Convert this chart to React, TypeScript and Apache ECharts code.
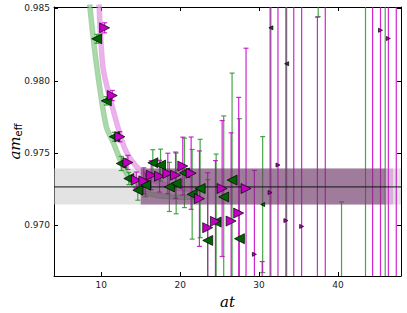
import React, { useEffect, useRef } from 'react';
import * as echarts from 'echarts';

// ---- data ----
const xTicks = [10, 20, 30, 40];
const yTicks = [0.970, 0.975, 0.980, 0.985];

// green correlator (left-pointing markers)
const greenT = [9.41, 10.63, 11.65, 12.53, 13.49, 14.63, 15.61, 16.53, 17.51, 18.63, 19.49, 20.54, 21.52, 22.53, 23.49, 24.56, 25.52, 26.58, 27.51, 30.46, 31.5, 33.5, 37.5, 40.46, 43.5, 46.0];
const greenV = [0.98290, 0.97861, 0.97613, 0.97428, 0.97324, 0.97243, 0.97278, 0.97433, 0.97417, 0.97266, 0.97290, 0.97363, 0.97215, 0.97255, 0.96896, 0.97023, 0.97197, 0.97313, 0.96908, 0.97144, 0.98366, 0.98118, 0.995, 0.955, 0.950, 0.950];
const greenErr = [0.00031, 0.00029, 0.00031, 0.00049, 0.00042, 0.00069, 0.0008, 0.0009, 0.0011, 0.0017, 0.0021, 0.0024, 0.0031, 0.0034, 0.0042, 0.0047, 0.0056, 0.0074, 0.0083, 0.0047, 0.02, 0.02, 0.01056, 0.01662, 0.045, 0.045];

// magenta correlator (right-pointing markers)
const magentaT = [10.42, 11.39, 12.35, 13.37, 14.43, 15.39, 16.33, 17.38, 18.43, 19.41, 20.33, 21.39, 22.44, 23.49, 24.47, 25.32, 26.46, 27.42, 28.35, 29.41, 30.4, 31.4, 32.4, 33.4, 34.4, 35.4, 37.4, 38.4, 44.4, 45.4, 46.4, 47.4];
const magentaV = [0.98366, 0.97898, 0.97613, 0.97435, 0.97313, 0.97308, 0.97347, 0.97340, 0.97359, 0.97347, 0.97410, 0.97361, 0.97185, 0.96984, 0.97028, 0.97255, 0.97030, 0.97085, 0.97255, 0.968, 0.955, 0.97227, 0.97417, 0.97033, 0.99, 0.96993, 0.96, 1.000, 0.950, 0.98349, 0.98292, 0.950];
const magentaErr = [0.00035, 0.00035, 0.00035, 0.00049, 0.00056, 0.0009, 0.001, 0.0011, 0.0014, 0.0016, 0.0020, 0.0025, 0.0033, 0.0038, 0.0042, 0.0047, 0.0061, 0.0080, 0.0097, 0.0058, 0.0125, 0.02, 0.02, 0.02, 0.03, 0.02, 0.0244, 0.045, 0.045, 0.02, 0.02, 0.045];

// fitted curves (sampled along the drawn bands)
const greenCurveT = [8.52, 9.15, 9.78, 10.63, 11.56, 12.41, 13.46, 14.85, 16.96, 19.06, 21.8];
const greenCurveV = [0.98528, 0.98215, 0.97960, 0.97683, 0.97567, 0.97451, 0.97335, 0.97243, 0.97208, 0.97197, 0.97194];
const magentaCurveT = [9.72, 10.2, 11.05, 12.73, 13.8, 15.9, 18.23, 19.91, 22.44];
const magentaCurveV = [0.98528, 0.98099, 0.97891, 0.97567, 0.97451, 0.97335, 0.97278, 0.97255, 0.9725];

// plateau result
const plateauValue = [0.97266];
const plateauRange = [0.97144, 0.97394];
const fullRangeT = [4, 48];
const greenFitT = [15, 46];
const magentaFitT = [15, 47];

const X_MIN = 4, X_MAX = 48, Y_MIN = 0.9665, Y_MAX = 0.9851;

function bandSeries(t: number[], v: number[], fill: string, z: number) {
  return {
    type: 'custom', z, silent: true, clip: true,
    data: [[t[0], t[1], v[0], v[1]]],
    encode: { x: [0, 1], y: [2, 3] },
    renderItem: (_p: any, api: any) => {
      const a = api.coord([api.value(0), api.value(3)]);
      const b = api.coord([api.value(1), api.value(2)]);
      return { type: 'rect', shape: { x: a[0], y: a[1], width: b[0] - a[0], height: b[1] - a[1] }, style: { fill } };
    },
  };
}

function errSeries(t: number[], v: number[], e: number[], color: string, z: number) {
  return {
    type: 'custom', z, silent: true, clip: true,
    data: t.map((x, i) => [x, v[i], e[i]]),
    encode: { x: 0, y: 1 },
    renderItem: (_p: any, api: any) => {
      const x = api.value(0), y = api.value(1), d = api.value(2);
      const top = api.coord([x, y + d]);
      const bot = api.coord([x, y - d]);
      const c = 2.5;
      const style = { stroke: color, lineWidth: 1.2 };
      return {
        type: 'group', children: [
          { type: 'line', shape: { x1: top[0], y1: top[1], x2: bot[0], y2: bot[1] }, style },
          { type: 'line', shape: { x1: top[0] - c, y1: top[1], x2: top[0] + c, y2: top[1] }, style },
          { type: 'line', shape: { x1: bot[0] - c, y1: bot[1], x2: bot[0] + c, y2: bot[1] }, style },
        ],
      };
    },
  };
}

function markerSeries(t: number[], v: number[], color: string, rot: number, z: number) {
  return {
    type: 'scatter', z, clip: true, silent: true,
    data: t.map((x, i) => [x, v[i]]),
    symbol: 'triangle', symbolRotate: rot,
    symbolSize: (d: number[]) => (d[0] < 29 ? 10 : 4),
    itemStyle: { color, borderColor: '#000', borderWidth: 0.7, opacity: 1 },
  };
}

function curveSeries(t: number[], v: number[], outer: string, inner: string, z: number) {
  const data = t.map((x, i) => [x, v[i]]);
  return [
    { type: 'line', z, silent: true, data, symbol: 'none', smooth: 0.3, clip: true, lineStyle: { color: outer, width: 5.5 } },
    { type: 'line', z, silent: true, data, symbol: 'none', smooth: 0.3, clip: true, lineStyle: { color: inner, width: 2.5 } },
  ];
}

export default function App() {
  const ref = useRef<HTMLDivElement>(null);
  useEffect(() => {
    document.body.style.margin = '0';
    const chart = echarts.init(ref.current!, null, { renderer: 'svg' });
    const axisLine = { show: true, lineStyle: { color: '#000', width: 1 } };
    const tick = { show: true, inside: true, length: 4, lineStyle: { color: '#000' } };
    chart.setOption({
      animation: false,
      backgroundColor: '#fff',
      grid: { left: 54, right: 6, top: 7, bottom: 37, containLabel: false, outerBoundsMode: 'none' },
      xAxis: [
        {
          type: 'value', min: X_MIN, max: X_MAX, splitNumber: 4,
          axisLine, axisTick: tick, splitLine: { show: false },
          axisLabel: {
            fontSize: 9, color: '#222', margin: 4, fontFamily: 'DejaVu Sans',
            showMinLabel: false, showMaxLabel: false,
            formatter: (v: number) => (xTicks.includes(v) ? String(v) : ''),
          },
          name: 'at', nameLocation: 'middle', nameGap: 18, nameMoveOverlap: false,
          nameTextStyle: { fontFamily: 'DejaVu Serif', fontStyle: 'italic', fontSize: 15, color: '#000' },
        },
        {
          type: 'value', position: 'top', min: X_MIN, max: X_MAX, splitNumber: 4,
          axisLine, axisTick: tick, axisLabel: { show: false }, splitLine: { show: false },
        },
      ],
      yAxis: [
        {
          type: 'value', min: Y_MIN, max: Y_MAX, splitNumber: 4,
          axisLine, axisTick: tick, splitLine: { show: false },
          axisLabel: {
            fontSize: 9, color: '#222', margin: 4, fontFamily: 'DejaVu Sans',
            showMinLabel: false, showMaxLabel: false,
            formatter: (v: number) => (yTicks.some((y) => Math.abs(y - v) < 1e-6) ? v.toFixed(3) : ''),
          },
          name: '{a|am}{b|eff}', nameLocation: 'middle', nameGap: 31, nameRotate: 90, nameMoveOverlap: false,
          nameTextStyle: {
            rich: {
              a: { fontFamily: 'DejaVu Serif', fontStyle: 'italic', fontSize: 15, lineHeight: 17, color: '#000' },
              b: { fontFamily: 'DejaVu Sans', fontSize: 10, lineHeight: 11, color: '#000', verticalAlign: 'bottom' },
            },
          },
        },
        {
          type: 'value', position: 'right', min: Y_MIN, max: Y_MAX, splitNumber: 4,
          axisLine, axisTick: tick, axisLabel: { show: false }, splitLine: { show: false },
        },
      ],
      series: [
        bandSeries(fullRangeT, plateauRange, 'rgba(200,200,200,0.5)', 1),
        ...curveSeries(greenCurveT, greenCurveV, 'rgba(90,175,90,0.55)', 'rgba(175,222,175,0.6)', 2),
        ...curveSeries(magentaCurveT, magentaCurveV, 'rgba(215,110,215,0.55)', 'rgba(238,180,238,0.6)', 2),
        errSeries(greenT, greenV, greenErr, 'rgba(40,150,40,0.85)', 4),
        errSeries(magentaT, magentaV, magentaErr, 'rgba(200,0,200,0.85)', 4),
        bandSeries(magentaFitT, plateauRange, 'rgba(190,80,190,0.35)', 6),
        bandSeries(greenFitT, plateauRange, 'rgba(60,30,50,0.35)', 6),
        {
          type: 'line', z: 7, silent: true, symbol: 'none',
          data: [[fullRangeT[0], plateauValue[0]], [fullRangeT[1], plateauValue[0]]],
          lineStyle: { color: '#111', width: 1 },
        },
        markerSeries(greenT, greenV, '#006400', 90, 8),
        markerSeries(magentaT, magentaV, '#c000c0', -90, 8),
      ],
    });
    return () => chart.dispose();
  }, []);
  return <div ref={ref} style={{ width: 407, height: 313 }} />;
}
